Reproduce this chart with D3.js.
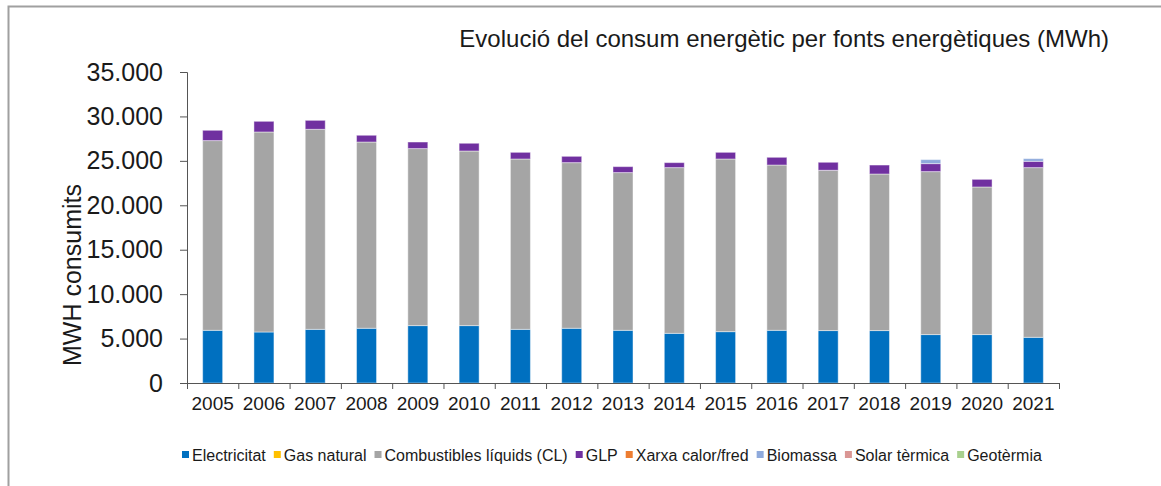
<!DOCTYPE html>
<html>
<head>
<meta charset="utf-8">
<script src="https://cdn.jsdelivr.net/npm/d3@7"></script>
<style>
  html, body { margin: 0; padding: 0; background: #fff; }
  svg { display: block; font-family: "Liberation Sans", Arial, sans-serif; }
</style>
</head>
<body>
<div id="chart"></div>
<script>
// data (MWh)
const years = ['2005', '2006', '2007', '2008', '2009', '2010', '2011', '2012', '2013',
  '2014', '2015', '2016', '2017', '2018', '2019', '2020', '2021'];
const electricitat = [5930, 5740, 6040, 6160, 6460, 6460, 6040, 6160, 5930, 5590, 5780, 5930, 5900, 5900, 5450, 5450, 5140];
const gasNatural = [0, 0, 0, 0, 0, 0, 0, 0, 0, 0, 0, 0, 0, 0, 0, 0, 0];
const combustibles = [21350, 22510, 22510, 20960, 19920, 19650, 19170, 18640, 17750, 18650, 19430, 18600, 18040, 17620, 18340, 16610, 19100];
const glp = [1160, 1200, 1010, 760, 740, 870, 750, 710, 670, 560, 750, 870, 900, 1010, 900, 860, 710];
const xarxa = [0, 0, 0, 0, 0, 0, 0, 0, 0, 0, 0, 0, 0, 0, 0, 0, 0];
const biomassa = [0, 0, 0, 0, 0, 0, 0, 0, 0, 0, 0, 0, 0, 0, 450, 0, 300];
const solar = [0, 0, 0, 0, 0, 0, 0, 0, 0, 0, 0, 0, 0, 0, 0, 0, 0];
const geotermia = [0, 0, 0, 0, 0, 0, 0, 0, 0, 0, 0, 0, 0, 0, 0, 0, 0];
const yTicks = [0, 5000, 10000, 15000, 20000, 25000, 30000, 35000];

const series = [
  { key: 'Electricitat', values: electricitat, color: '#0070C0' },
  { key: 'Gas natural', values: gasNatural, color: '#FFC000' },
  { key: 'Combustibles líquids (CL)', values: combustibles, color: '#A5A5A5' },
  { key: 'GLP', values: glp, color: '#7030A0' },
  { key: 'Xarxa calor/fred', values: xarxa, color: '#ED7D31' },
  { key: 'Biomassa', values: biomassa, color: '#8FAADC' },
  { key: 'Solar tèrmica', values: solar, color: '#DA9694' },
  { key: 'Geotèrmia', values: geotermia, color: '#A9D08E' },
];

const W = 1161, H = 486;
const margin = { top: 72, right: 102, bottom: 103, left: 187 };
const width = W - margin.left - margin.right;
const height = H - margin.top - margin.bottom;

const svg = d3.select('#chart').append('svg')
  .attr('width', W)
  .attr('height', H);

// outer frame (only top and left edges are visible)
svg.append('path')
  .attr('d', `M8.5,${H} V6.5 H${W}`)
  .attr('fill', 'none')
  .attr('stroke', '#a0a0a0')
  .attr('stroke-width', 2);

svg.append('text')
  .attr('x', 1109)
  .attr('y', 47)
  .attr('text-anchor', 'end')
  .style('font-size', '24px')
  .attr('fill', '#1a1a1a')
  .text('Evolució del consum energètic per fonts energètiques (MWh)');

const g = svg.append('g')
  .attr('transform', `translate(${margin.left},${margin.top})`);

const x = d3.scaleBand().domain(years).range([0, width]).paddingInner(0.61).paddingOuter(0.305);
const y = d3.scaleLinear().domain([0, 35000]).range([height, 0]);

const rows = years.map((yr, i) => {
  const r = { year: yr };
  series.forEach((s) => { r[s.key] = s.values[i]; });
  return r;
});
const stacked = d3.stack().keys(series.map((s) => s.key))(rows);

g.selectAll('.layer')
  .data(stacked)
  .enter()
  .append('g')
  .attr('class', 'layer')
  .attr('fill', (d, i) => series[i].color)
  .selectAll('rect')
  .data((d) => d.filter((p) => p[1] - p[0] > 0))
  .enter()
  .append('rect')
  .attr('x', (d) => x(d.data.year))
  .attr('y', (d) => y(d[1]))
  .attr('width', x.bandwidth())
  .attr('height', (d) => y(d[0]) - y(d[1]))
  .attr('stroke', '#ffffff')
  .attr('stroke-opacity', 0.45)
  .attr('stroke-width', 1);

// y axis
const yAxis = g.append('g')
  .call(d3.axisLeft(y).tickValues(yTicks).tickSize(7).tickPadding(17)
    .tickFormat((d) => d3.format(',')(d).replace(/,/g, '.')));
yAxis.selectAll('text').style('font-size', '25px').attr('fill', '#1a1a1a');

// x axis with ticks between categories
const xAxis = g.append('g')
  .attr('transform', `translate(0,${height})`)
  .call(d3.axisBottom(x).tickSize(0).tickPadding(14));
xAxis.selectAll('text').style('font-size', '19px').attr('fill', '#1a1a1a');
xAxis.selectAll('.sep')
  .data(d3.range(years.length + 1))
  .enter()
  .append('line')
  .attr('class', 'sep')
  .attr('x1', (i) => i * x.step() + 0.5)
  .attr('x2', (i) => i * x.step() + 0.5)
  .attr('y1', 0)
  .attr('y2', 6)
  .attr('stroke', '#555');

g.selectAll('.domain, .tick line').attr('stroke', '#555');
xAxis.select('.domain').attr('d', `M0,0.5H${width}`);

svg.append('text')
  .attr('transform', `translate(81,275) rotate(-90)`)
  .attr('text-anchor', 'middle')
  .style('font-size', '25px')
  .attr('fill', '#1a1a1a')
  .text('MWH consumits');

// legend
const legend = svg.append('g');
let lx = 0;
const items = legend.selectAll('.item')
  .data(series)
  .enter()
  .append('g')
  .attr('class', 'item');
items.append('rect')
  .attr('y', -4)
  .attr('width', 7)
  .attr('height', 7)
  .attr('fill', (d) => d.color);
items.append('text')
  .attr('x', 10)
  .attr('y', 5.5)
  .style('font-size', '16px')
  .attr('fill', '#1a1a1a')
  .text((d) => d.key);
items.each(function () {
  d3.select(this).attr('transform', `translate(${lx},0)`);
  lx += 10 + d3.select(this).select('text').node().getComputedTextLength() + 8;
});
legend.attr('transform', `translate(${182},455)`);
</script>
</body>
</html>
